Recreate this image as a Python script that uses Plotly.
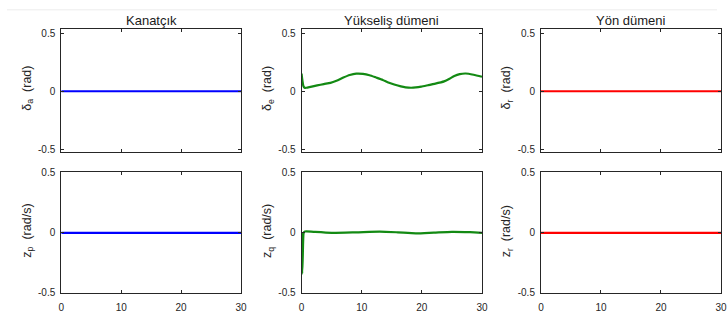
import plotly.graph_objects as go

# ---- data ----
t_flat = [0, 30]
da_vals = [0, 0]
dr_vals = [0, 0]
zp_vals = [0, 0]
zr_vals = [0, 0]

t_de = [0, 0.15, 0.3, 0.5, 0.8, 1.5, 2.6, 3.7, 4.8, 5.8, 6.95, 8.0, 9.1, 10.2, 11.3, 12.4, 13.5, 14.3,
        15.4, 16.5, 17.3, 18.2, 19.0, 19.9, 21.0, 22.1, 23.7, 24.6, 25.4, 26.3, 27.3, 28.6, 30]
de_vals = [0.153, 0.09, 0.045, 0.03, 0.03, 0.038, 0.05, 0.062, 0.072, 0.09, 0.118, 0.14, 0.152, 0.15,
           0.138, 0.118, 0.097, 0.078, 0.058, 0.042, 0.034, 0.03, 0.033, 0.04, 0.052, 0.064, 0.085,
           0.108, 0.132, 0.148, 0.153, 0.142, 0.125]

t_zq = [0, 0.1, 0.2, 0.35, 0.5, 0.8, 2, 5, 9, 13, 16, 19, 22, 25, 28, 30]
zq_vals = [0.0, -0.34, -0.2, 0.0, 0.01, 0.012, 0.008, 0.0, 0.004, 0.01, 0.004, -0.004, 0.002, 0.008, 0.005, 0.0]

titles = ["Kanatçık", "Yükseliş dümeni", "Yön dümeni"]
ylabels_top = ["δ<sub>a</sub>  (rad)", "δ<sub>e</sub>  (rad)", "δ<sub>r</sub>  (rad)"]
ylabels_bot = ["z<sub>p</sub>  (rad/s)", "z<sub>q</sub>  (rad/s)", "z<sub>r</sub>  (rad/s)"]
xticks = [0, 10, 20, 30]
yticks = [-0.5, 0, 0.5]
ytick_text = ["-0.5", "0", "0.5"]

W, H = 728, 320
BLUE, GREEN, RED = "#0000ff", "#138a13", "#ff0000"
AX = "#262626"
FONT = "Liberation Sans, Arial, sans-serif"

fig = go.Figure()

series = [
    (t_flat, da_vals, BLUE, 1), (t_de, de_vals, GREEN, 2), (t_flat, dr_vals, RED, 3),
    (t_flat, zp_vals, BLUE, 4), (t_zq, zq_vals, GREEN, 5), (t_flat, zr_vals, RED, 6),
]
for x, y, c, i in series:
    fig.add_trace(go.Scatter(x=x, y=y, mode="lines", line=dict(color=c, width=2.2, shape="spline", smoothing=0.6),
                             xaxis="x" if i == 1 else f"x{i}", yaxis="y" if i == 1 else f"y{i}",
                             showlegend=False, hoverinfo="skip"))

xdoms = [(59, 241), (302.3, 485), (544.7, 727)]
ydoms = [(25, 152), (173, 298)]
yranges = [(-0.5225, 0.536), (-0.5, 0.507)]

layout = dict(width=W, height=H, margin=dict(l=0, r=0, t=0, b=0),
              paper_bgcolor="white", plot_bgcolor="white", showlegend=False,
              font=dict(family=FONT, size=10, color=AX))
annotations = []
for r in range(2):
    for c in range(3):
        i = r * 3 + c + 1
        xs = "" if i == 1 else str(i)
        x0, x1 = xdoms[c]
        y0, y1 = ydoms[r]
        layout[f"xaxis{xs}"] = dict(
            domain=[x0 / W, x1 / W], anchor=f"y{xs}", range=[0, 30],
            tickvals=xticks, ticktext=[str(v) for v in xticks] if r == 1 else ["" for _ in xticks],
            ticks="inside", ticklen=3, tickcolor=AX, showline=True, linecolor=AX, linewidth=1,
            mirror="ticks", showgrid=False, zeroline=False, fixedrange=True, ticklabelstandoff=5,
            tickfont=dict(family=FONT, size=10, color=AX))
        layout[f"yaxis{xs}"] = dict(
            domain=[1 - y1 / H, 1 - y0 / H], anchor=f"x{xs}", range=list(yranges[r]),
            tickvals=yticks, ticktext=ytick_text,
            ticks="inside", ticklen=3, tickcolor=AX, showline=True, linecolor=AX, linewidth=1,
            mirror="ticks", showgrid=False, zeroline=False, fixedrange=True, ticklabelstandoff=3,
            tickfont=dict(family=FONT, size=10, color=AX))
        label = ylabels_top[c] if r == 0 else ylabels_bot[c]
        ycen = 86 if r == 0 else 234
        annotations.append(dict(text=label, textangle=-90, x=(x0 - 34) / W, y=1 - ycen / H,
                                xref="paper", yref="paper", xanchor="center", yanchor="middle",
                                showarrow=False, font=dict(family=FONT, size=12.5, color=AX)))

for c in range(3):
    x0, x1 = xdoms[c]
    annotations.append(dict(text=titles[c], x=(x0 + x1) / 2 / W, y=1 - 16 / H, xref="paper", yref="paper",
                            xanchor="center", yanchor="middle", showarrow=False,
                            font=dict(family=FONT, size=13, color="#1a1a1a")))
layout["annotations"] = annotations
layout["shapes"] = [dict(type="line", xref="paper", yref="paper", x0=4 / W, x1=723 / W,
                         y0=1 - 5 / H, y1=1 - 5 / H, line=dict(color="#ececec", width=1))]
fig.update_layout(**layout)
fig.write_html("out.html", config={"displayModeBar": False})
